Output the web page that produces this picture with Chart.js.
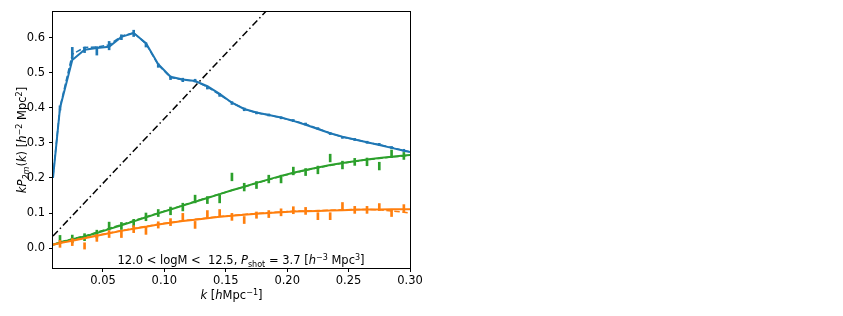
<!DOCTYPE html>
<html>
<head>
<meta charset="utf-8">
<script src="https://cdn.jsdelivr.net/npm/chart.js@4"></script>
<style>
  html, body { margin: 0; padding: 0; background: #fff; }
  canvas { display: block; }
</style>
</head>
<body>
<canvas id="chart" width="843" height="316"></canvas>
<script>
// measured bins
const kData = [0.015, 0.025, 0.035, 0.045, 0.055, 0.065, 0.075, 0.085, 0.095, 0.105,
  0.115, 0.125, 0.135, 0.145, 0.155, 0.165, 0.175, 0.185, 0.195, 0.205,
  0.215, 0.225, 0.235, 0.245, 0.255, 0.265, 0.275, 0.285, 0.295];

const blueData = [0.400, 0.556, 0.566, 0.563, 0.578, 0.602, 0.613, 0.580, 0.521, 0.486,
  0.480, 0.478, 0.458, 0.437, 0.414, 0.396, 0.386, 0.380, 0.372, 0.364,
  0.354, 0.341, 0.327, 0.316, 0.310, 0.302, 0.296, 0.287, 0.279];
const blueErr = [0.006, 0.017, 0.008, 0.012, 0.012, 0.007, 0.009, 0.006, 0.005, 0.005,
  0.005, 0.004, 0.004, 0.004, 0.004, 0.004, 0.003, 0.003, 0.003, 0.003,
  0.003, 0.003, 0.003, 0.003, 0.003, 0.003, 0.003, 0.003, 0.003];

const greenData = [0.026, 0.026, 0.031, 0.040, 0.063, 0.063, 0.071, 0.089, 0.100, 0.106,
  0.117, 0.140, 0.137, 0.140, 0.203, 0.174, 0.180, 0.197, 0.197, 0.220,
  0.217, 0.223, 0.257, 0.237, 0.246, 0.246, 0.234, 0.269, 0.263];
const greenErr = [0.010, 0.011, 0.010, 0.011, 0.011, 0.010, 0.011, 0.011, 0.010, 0.011,
  0.011, 0.011, 0.010, 0.011, 0.011, 0.011, 0.010, 0.011, 0.011, 0.011,
  0.010, 0.011, 0.011, 0.011, 0.010, 0.011, 0.011, 0.011, 0.010];

const orangeData = [0.012, 0.017, 0.006, 0.029, 0.040, 0.040, 0.054, 0.049, 0.066, 0.074,
  0.089, 0.066, 0.097, 0.100, 0.089, 0.080, 0.094, 0.097, 0.102, 0.108,
  0.106, 0.091, 0.091, 0.120, 0.109, 0.109, 0.117, 0.100, 0.114];
const orangeErr = [0.010, 0.010, 0.009, 0.010, 0.010, 0.010, 0.010, 0.010, 0.009, 0.010,
  0.010, 0.010, 0.010, 0.010, 0.010, 0.010, 0.009, 0.010, 0.010, 0.010,
  0.010, 0.010, 0.010, 0.010, 0.010, 0.010, 0.010, 0.010, 0.010];

// mean (dashed) and model (solid) curves
const kModel = [0.0093, 0.015, 0.025, 0.035, 0.045, 0.055, 0.065, 0.075, 0.085, 0.095, 0.105,
  0.115, 0.125, 0.135, 0.145, 0.155, 0.165, 0.175, 0.185, 0.195, 0.205,
  0.215, 0.225, 0.235, 0.245, 0.255, 0.265, 0.275, 0.285, 0.295, 0.30];

const blueMean = [0.205, 0.402, 0.553, 0.573, 0.574, 0.580, 0.605, 0.615, 0.583, 0.523, 0.487,
  0.480, 0.477, 0.460, 0.438, 0.415, 0.397, 0.386, 0.380, 0.372, 0.364,
  0.354, 0.341, 0.328, 0.317, 0.310, 0.302, 0.295, 0.287, 0.279, 0.275];
const blueModel = [0.200, 0.400, 0.537, 0.566, 0.571, 0.575, 0.603, 0.614, 0.585, 0.525, 0.489,
  0.481, 0.477, 0.462, 0.440, 0.415, 0.397, 0.387, 0.380, 0.373, 0.363,
  0.352, 0.340, 0.328, 0.318, 0.310, 0.302, 0.294, 0.286, 0.278, 0.274];

const greenMean = [0.010, 0.017, 0.026, 0.034, 0.045, 0.056, 0.067, 0.078, 0.089, 0.100, 0.111,
  0.122, 0.133, 0.144, 0.154, 0.165, 0.175, 0.185, 0.195, 0.205, 0.214,
  0.222, 0.229, 0.236, 0.242, 0.247, 0.252, 0.256, 0.260, 0.263, 0.265];
const greenModel = [0.009, 0.015, 0.025, 0.033, 0.043, 0.054, 0.065, 0.076, 0.088, 0.099, 0.110,
  0.121, 0.132, 0.143, 0.154, 0.165, 0.175, 0.186, 0.196, 0.206, 0.215,
  0.223, 0.230, 0.237, 0.243, 0.248, 0.253, 0.257, 0.261, 0.264, 0.266];

const orangeMean = [0.010, 0.015, 0.022, 0.029, 0.036, 0.043, 0.050, 0.056, 0.062, 0.068, 0.073,
  0.078, 0.082, 0.086, 0.090, 0.093, 0.096, 0.099, 0.101, 0.103, 0.105,
  0.106, 0.107, 0.108, 0.109, 0.110, 0.110, 0.109, 0.106, 0.102, 0.100];
const orangeModel = [0.009, 0.014, 0.021, 0.028, 0.035, 0.042, 0.049, 0.055, 0.061, 0.067, 0.072,
  0.077, 0.081, 0.085, 0.089, 0.092, 0.095, 0.098, 0.100, 0.102, 0.104,
  0.105, 0.106, 0.107, 0.108, 0.109, 0.110, 0.110, 0.111, 0.111, 0.111];

// shot noise line k * P_shot
const shotK = [0.0093, 0.30];
const shotP = [0.0344, 1.110];

const xTicks = [0.05, 0.10, 0.15, 0.20, 0.25, 0.30];
const yTicks = [0.0, 0.1, 0.2, 0.3, 0.4, 0.5, 0.6];

const BLUE = "#1f77b4", ORANGE = "#ff7f0e", GREEN = "#2ca02c";
const FONT = "DejaVu Sans";
const FS = 11.5;

function pts(xs, ys) {
  return xs.map((x, i) => ({ x: x, y: ys[i] }));
}
function errs(xs, ys, es) {
  return xs.map((x, i) => ({ x: x, y: [ys[i] - es[i], ys[i] + es[i]] }));
}

function errSet(xs, ys, es, c) {
  return {
    type: "bar", data: errs(xs, ys, es), backgroundColor: c,
    barThickness: 2, maxBarThickness: 2, grouped: false, borderWidth: 0,
  };
}
function lineSet(xs, ys, c, dash, w) {
  return {
    type: "line", data: pts(xs, ys), borderColor: c, borderWidth: w,
    borderDash: dash, pointRadius: 0, tension: 0, fill: false,
  };
}

// mathtext-ish: [text, italic, shift] shift 1 = sup, -1 = sub
function rich(ctx, parts, x, y, align) {
  const seg = parts.map(([t, it, sh]) => {
    const size = sh ? FS * 0.7 : FS;
    const font = (it ? "italic " : "") + size + "px '" + FONT + "'";
    ctx.font = font;
    return { t, font, sh, w: ctx.measureText(t).width };
  });
  const total = seg.reduce((s, p) => s + p.w, 0);
  let cx = align === "center" ? x - total / 2 : x;
  ctx.textAlign = "left";
  ctx.textBaseline = "alphabetic";
  for (const p of seg) {
    ctx.font = p.font;
    const dy = p.sh === 1 ? -FS * 0.38 : p.sh === -1 ? FS * 0.22 : 0;
    ctx.fillText(p.t, cx, y + dy);
    cx += p.w;
  }
}

const decor = {
  id: "decor",
  afterDraw(chart) {
    const ctx = chart.ctx;
    const a = chart.chartArea;
    ctx.save();
    ctx.strokeStyle = "#000";
    ctx.lineWidth = 1;
    ctx.strokeRect(Math.round(a.left) - 0.5, Math.round(a.top) - 0.5,
      Math.round(a.right - a.left) + 1, Math.round(a.bottom - a.top) + 1);
    ctx.fillStyle = "#000";

    rich(ctx, [["12.0 < logM <  12.5, ", 0, 0], ["P", 1, 0], ["shot", 0, -1],
      [" = 3.7 [", 0, 0], ["h", 1, 0], ["\u22123", 0, 1], [" Mpc", 0, 0], ["3", 0, 1], ["]", 0, 0]],
      241, 264, "center");

    rich(ctx, [["k", 1, 0], [" [", 0, 0], ["h", 1, 0], ["Mpc", 0, 0], ["\u22121", 0, 1], ["]", 0, 0]],
      (a.left + a.right) / 2, 299, "center");

    ctx.translate(26, (a.top + a.bottom) / 2);
    ctx.rotate(-Math.PI / 2);
    rich(ctx, [["kP", 1, 0], ["2m", 1, -1], ["(", 0, 0], ["k", 1, 0], [")", 0, 0],
      [" [", 0, 0], ["h", 1, 0], ["\u22122", 0, 1], [" Mpc", 0, 0], ["2", 0, 1], ["]", 0, 0]],
      0, 0, "center");
    ctx.restore();
  },
};

new Chart(document.getElementById("chart").getContext("2d"), {
  type: "line",
  data: {
    datasets: [
      errSet(kData, blueData, blueErr, BLUE),
      lineSet(kModel, blueMean, BLUE, [5.5, 2.5], 1.5),
      lineSet(kModel, blueModel, BLUE, [], 2),
      errSet(kData, orangeData, orangeErr, ORANGE),
      lineSet(kModel, orangeMean, ORANGE, [5.5, 2.5], 1.5),
      lineSet(kModel, orangeModel, ORANGE, [], 2),
      errSet(kData, greenData, greenErr, GREEN),
      lineSet(kModel, greenMean, GREEN, [5.5, 2.5], 1.5),
      lineSet(kModel, greenModel, GREEN, [], 2),
      lineSet(shotK, shotP, "#000", [7, 3, 1.5, 3], 1.5),
    ],
  },
  options: {
    responsive: false,
    animation: false,
    devicePixelRatio: 1,
    layout: { padding: { left: 0, right: 433, top: 12, bottom: 0 } },
    plugins: { legend: { display: false }, tooltip: { enabled: false } },
    scales: {
      x: {
        type: "linear", min: 0.0093, max: 0.30, offset: false,
        grid: { drawOnChartArea: false, drawTicks: true, tickLength: 4, color: "#000", offset: false },
        border: { display: false },
        afterBuildTicks: (s) => { s.ticks = xTicks.map((v) => ({ value: v })); },
        afterFit: (s) => { s.height = 48; },
        ticks: {
          padding: 2, color: "#000", maxRotation: 0,
          font: { family: FONT, size: FS },
          callback: (v) => v.toFixed(2),
        },
      },
      y: {
        type: "linear", min: -0.057, max: 0.674,
        grid: { drawOnChartArea: false, drawTicks: true, tickLength: 4, color: "#000" },
        border: { display: false },
        afterBuildTicks: (s) => { s.ticks = yTicks.map((v) => ({ value: v })); },
        afterFit: (s) => { s.width = 53; },
        ticks: {
          padding: 4, color: "#000",
          font: { family: FONT, size: FS },
          callback: (v) => v.toFixed(1),
        },
      },
    },
  },
  plugins: [decor],
});
</script>
</body>
</html>
